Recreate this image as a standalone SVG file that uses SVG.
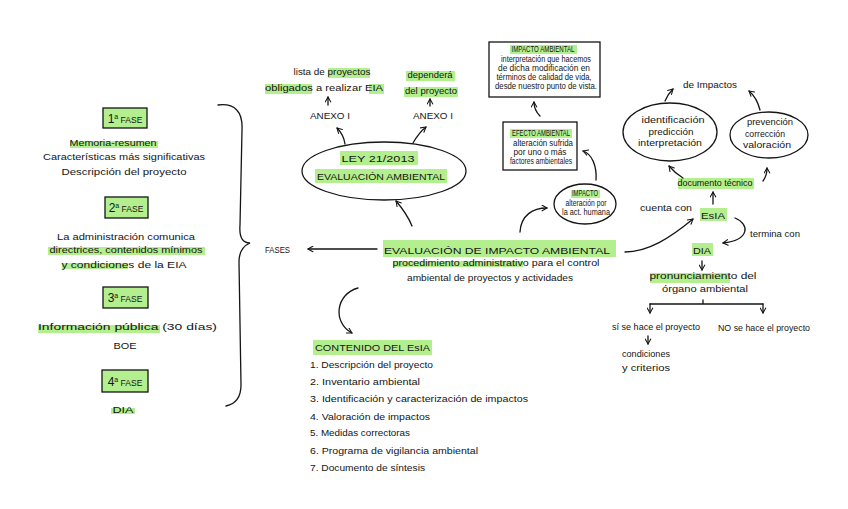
<svg xmlns="http://www.w3.org/2000/svg" width="848" height="509" viewBox="0 0 848 509">
<style>
.t{font-family:"Liberation Sans",Arial,sans-serif;fill:#151515;font-size:9px}
.m{text-anchor:middle}
.hl{fill:#b3ef8e}
.box{fill:#b3ef8e;stroke:#151515;stroke-width:1.3}
.wbox{fill:#fff;stroke:#151515;stroke-width:1.3}
.ln{fill:none;stroke:#151515;stroke-width:1.3;stroke-linecap:round}
.ar{fill:none;stroke:#151515;stroke-width:1.3;stroke-linecap:round;marker-end:url(#ah)}
</style>
<defs>
<marker id="ah" viewBox="0 0 10 10" refX="8" refY="5" markerWidth="7" markerHeight="7" orient="auto" markerUnits="userSpaceOnUse">
<path d="M1,1 L8,5 L1,9" fill="none" stroke="#151515" stroke-width="1.5" stroke-linecap="round" stroke-linejoin="round"/>
</marker>
</defs>
<rect width="848" height="509" fill="#fff"/>

<g id="fase1">
<rect class="box" x="103" y="108" width="44" height="20"/>
<text class="t m" x="125" y="123"><tspan font-size="12">1</tspan><tspan font-size="7" dy="-4">a</tspan><tspan font-size="8.5" dy="4"> FASE</tspan></text>
<rect class="hl" x="70" y="141" width="88" height="7"/>
<text class="t m" x="113" y="146" textLength="87" lengthAdjust="spacingAndGlyphs" font-size="10">Memoria-resumen</text>
<text class="t m" x="124" y="160" textLength="162" lengthAdjust="spacingAndGlyphs" font-size="10">Características más significativas</text>
<text class="t m" x="124" y="175" textLength="125" lengthAdjust="spacingAndGlyphs" font-size="10">Descripción del proyecto</text>
</g>

<g id="fase2">
<rect class="box" x="105" y="197" width="43" height="21"/>
<text class="t m" x="126" y="212"><tspan font-size="12">2</tspan><tspan font-size="7" dy="-4">a</tspan><tspan font-size="8.5" dy="4"> FASE</tspan></text>
<text class="t m" x="126" y="240" textLength="138" lengthAdjust="spacingAndGlyphs" font-size="10">La administración comunica</text>
<rect class="hl" x="48" y="247" width="157" height="8"/>
<text class="t m" x="126" y="253" textLength="153" lengthAdjust="spacingAndGlyphs" font-size="10">directrices, contenidos mínimos</text>
<rect class="hl" x="62" y="263" width="66" height="6"/>
<text class="t m" x="124" y="268" textLength="125" lengthAdjust="spacingAndGlyphs" font-size="10">y condiciones de la EIA</text>
</g>

<g id="fase3">
<rect class="box" x="103" y="287" width="45" height="21"/>
<text class="t m" x="125" y="302"><tspan font-size="12">3</tspan><tspan font-size="7" dy="-4">a</tspan><tspan font-size="8.5" dy="4"> FASE</tspan></text>
<rect class="hl" x="38" y="325" width="122" height="8"/>
<text class="t" x="38" y="330" textLength="179" lengthAdjust="spacingAndGlyphs" font-size="12">Información pública  (30 días)</text>
<text class="t m" x="125" y="349" textLength="23" lengthAdjust="spacingAndGlyphs" font-size="11">BOE</text>
</g>

<g id="fase4">
<rect class="box" x="102" y="370" width="46" height="22"/>
<text class="t m" x="125" y="386"><tspan font-size="12">4</tspan><tspan font-size="7" dy="-4">a</tspan><tspan font-size="8.5" dy="4"> FASE</tspan></text>
<rect class="hl" x="111" y="408" width="24" height="6"/>
<text class="t m" x="123" y="413" textLength="21" lengthAdjust="spacingAndGlyphs" font-size="11">DIA</text>
</g>

<g id="fases">
<text class="t" x="265" y="253" textLength="25" lengthAdjust="spacingAndGlyphs" font-size="9">FASES</text>
</g>

<g id="ley">
<ellipse class="ln" cx="384" cy="171" rx="82" ry="29"/>
<rect class="hl" x="340" y="151" width="78" height="14"/>
<text class="t m" x="378" y="162" textLength="73" lengthAdjust="spacingAndGlyphs" font-size="11">LEY 21/2013</text>
<rect class="hl" x="315" y="169" width="132" height="14"/>
<text class="t m" x="381" y="180" textLength="128" lengthAdjust="spacingAndGlyphs" font-size="10">EVALUACIÓN  AMBIENTAL</text>
</g>

<g id="anexo1">
<text class="t m" x="330" y="119" textLength="40" lengthAdjust="spacingAndGlyphs" font-size="9">ANEXO I</text>
<rect class="hl" x="328" y="68" width="42" height="10"/>
<text class="t m" x="332" y="75" textLength="77" lengthAdjust="spacingAndGlyphs" font-size="9.5">lista de proyectos</text>
<rect class="hl" x="265" y="84" width="47" height="10"/>
<rect class="hl" x="369" y="84" width="15" height="10"/>
<text class="t m" x="324" y="91" textLength="118" lengthAdjust="spacingAndGlyphs" font-size="9.5">obligados a realizar EIA</text>
</g>

<g id="anexo2">
<text class="t m" x="433" y="119" textLength="40" lengthAdjust="spacingAndGlyphs" font-size="9">ANEXO I</text>
<rect class="hl" x="406" y="71" width="49" height="10"/>
<text class="t m" x="430" y="78" textLength="45" lengthAdjust="spacingAndGlyphs" font-size="9.5">dependerá</text>
<rect class="hl" x="404" y="87" width="54" height="10"/>
<text class="t m" x="431" y="94" textLength="52" lengthAdjust="spacingAndGlyphs" font-size="9.5">del proyecto</text>
</g>

<g id="eia">
<rect class="hl" x="383" y="240" width="233" height="17"/>
<text class="t m" x="497" y="254" textLength="226" lengthAdjust="spacingAndGlyphs" font-size="14">EVALUACIÓN DE IMPACTO AMBIENTAL</text>
<rect class="hl" x="393" y="261" width="130" height="6"/>
<text class="t m" x="496" y="266" textLength="207" lengthAdjust="spacingAndGlyphs" font-size="9.5">procedimiento administrativo para el control</text>
<text class="t m" x="490" y="281" textLength="166" lengthAdjust="spacingAndGlyphs" font-size="9.5">ambiental de proyectos y actividades</text>
</g>

<g id="impacto-ambiental">
<rect class="wbox" x="489" y="42" width="111" height="55"/>
<rect class="hl" x="510" y="45" width="67" height="9"/>
<text class="t m" x="543" y="52" textLength="63" lengthAdjust="spacingAndGlyphs" font-size="6.5">IMPACTO AMBIENTAL</text>
<text class="t m" x="546" y="62" textLength="90" lengthAdjust="spacingAndGlyphs" font-size="7">interpretación que hacemos</text>
<text class="t m" x="544" y="71" textLength="92" lengthAdjust="spacingAndGlyphs" font-size="7">de dicha modificación en</text>
<text class="t m" x="544" y="80" textLength="95" lengthAdjust="spacingAndGlyphs" font-size="7">términos de calidad de vida,</text>
<text class="t m" x="546" y="89" textLength="102" lengthAdjust="spacingAndGlyphs" font-size="7">desde nuestro punto de vista.</text>
</g>

<g id="efecto-ambiental">
<rect class="wbox" x="503" y="122" width="74" height="48"/>
<rect class="hl" x="510" y="129" width="62" height="9"/>
<text class="t m" x="541" y="136" textLength="58" lengthAdjust="spacingAndGlyphs" font-size="6.5">EFECTO AMBIENTAL</text>
<text class="t m" x="543" y="146" textLength="60" lengthAdjust="spacingAndGlyphs" font-size="6.3">alteración sufrida</text>
<text class="t m" x="540" y="155" textLength="53" lengthAdjust="spacingAndGlyphs" font-size="6.3">por uno o más</text>
<text class="t m" x="541" y="164" textLength="62" lengthAdjust="spacingAndGlyphs" font-size="6.3">factores ambientales</text>
</g>

<g id="impacto">
<ellipse class="ln" cx="585" cy="204" rx="31" ry="20"/>
<rect class="hl" x="571" y="190" width="29" height="8"/>
<text class="t m" x="585" y="196" textLength="26" lengthAdjust="spacingAndGlyphs" font-size="6">IMPACTO</text>
<text class="t m" x="586" y="206" textLength="41" lengthAdjust="spacingAndGlyphs" font-size="6">alteración por</text>
<text class="t m" x="586" y="215" textLength="48" lengthAdjust="spacingAndGlyphs" font-size="6">la act. humana</text>
</g>

<g id="de-impactos">
<text class="t m" x="710" y="88" textLength="54" lengthAdjust="spacingAndGlyphs" font-size="9">de Impactos</text>
</g>

<g id="identificacion">
<ellipse class="ln" cx="670" cy="132" rx="47" ry="29"/>
<text class="t m" x="673" y="123" textLength="63" lengthAdjust="spacingAndGlyphs" font-size="8.5">identificación</text>
<text class="t m" x="671" y="135" textLength="45" lengthAdjust="spacingAndGlyphs" font-size="8.5">predicción</text>
<text class="t m" x="670" y="146" textLength="64" lengthAdjust="spacingAndGlyphs" font-size="8.5">interpretación</text>
</g>

<g id="prevencion">
<ellipse class="ln" cx="769" cy="135" rx="39" ry="23"/>
<text class="t m" x="770" y="125" textLength="46" lengthAdjust="spacingAndGlyphs" font-size="8.5">prevención</text>
<text class="t m" x="765" y="137" textLength="40" lengthAdjust="spacingAndGlyphs" font-size="8.5">corrección</text>
<text class="t m" x="767" y="148" textLength="48" lengthAdjust="spacingAndGlyphs" font-size="8.5">valoración</text>
</g>

<g id="documento-tecnico">
<rect class="hl" x="678" y="178" width="76" height="11"/>
<text class="t m" x="715" y="186" textLength="75" lengthAdjust="spacingAndGlyphs" font-size="8.5">documento técnico</text>
</g>

<g id="esia">
<text class="t m" x="666" y="211" textLength="52" lengthAdjust="spacingAndGlyphs" font-size="8">cuenta con</text>
<rect class="hl" x="700" y="208" width="27" height="13"/>
<text class="t m" x="713" y="219" textLength="24" lengthAdjust="spacingAndGlyphs" font-size="10">EsIA</text>
<text class="t m" x="775" y="237" textLength="50" lengthAdjust="spacingAndGlyphs" font-size="8">termina con</text>
</g>

<g id="dia">
<rect class="hl" x="692" y="243" width="21" height="13"/>
<text class="t m" x="702" y="254" textLength="18" lengthAdjust="spacingAndGlyphs" font-size="10">DIA</text>
</g>

<g id="pronunciamiento">
<rect class="hl" x="650" y="273" width="80" height="10"/>
<text class="t m" x="703" y="279" textLength="107" lengthAdjust="spacingAndGlyphs" font-size="9">pronunciamiento del</text>
<text class="t m" x="705" y="292" textLength="86" lengthAdjust="spacingAndGlyphs" font-size="9">órgano ambiental</text>
</g>

<g id="si-proyecto">
<text class="t m" x="656" y="330" textLength="88" lengthAdjust="spacingAndGlyphs" font-size="9">sí se hace el proyecto</text>
<text class="t m" x="646" y="357" textLength="48" lengthAdjust="spacingAndGlyphs" font-size="9">condiciones</text>
<text class="t m" x="646" y="371" textLength="48" lengthAdjust="spacingAndGlyphs" font-size="9">y criterios</text>
</g>

<g id="no-proyecto">
<text class="t m" x="764" y="331" textLength="92" lengthAdjust="spacingAndGlyphs" font-size="9">NO se hace el proyecto</text>
</g>

<g id="contenido">
<rect class="hl" x="313" y="340" width="119" height="15"/>
<text class="t" x="315" y="351" textLength="115" lengthAdjust="spacingAndGlyphs" font-size="9.5">CONTENIDO  DEL  EsIA</text>
<text class="t" x="310" y="368" textLength="123" lengthAdjust="spacingAndGlyphs" font-size="8.5">1. Descripción del proyecto</text>
<text class="t" x="310" y="385" textLength="110" lengthAdjust="spacingAndGlyphs" font-size="8.5">2. Inventario ambiental</text>
<text class="t" x="310" y="402" textLength="218" lengthAdjust="spacingAndGlyphs" font-size="8.5">3. Identificación y caracterización de impactos</text>
<text class="t" x="310" y="420" textLength="120" lengthAdjust="spacingAndGlyphs" font-size="8.5">4. Valoración de impactos</text>
<text class="t" x="310" y="436" textLength="100" lengthAdjust="spacingAndGlyphs" font-size="8.5">5. Medidas correctoras</text>
<text class="t" x="310" y="454" textLength="168" lengthAdjust="spacingAndGlyphs" font-size="8.5">6. Programa de vigilancia ambiental</text>
<text class="t" x="310" y="471" textLength="115" lengthAdjust="spacingAndGlyphs" font-size="8.5">7. Documento de síntesis</text>
</g>

<g id="connectors">
<path class="ln" d="M218,105 C235,103 243,112 242,130 L240,225 C239,238 243,243 250,243 C243,246 239,252 239,262 L241,385 C241,398 235,404 226,406"/>
<path class="ar" d="M377,249 L308,249"/>
<path class="ar" d="M412,226 C408,216 402,208 396,201"/>
<path class="ar" d="M345,144 C344,137 341,132 337,128"/>
<path class="ar" d="M413,143 C417,136 421,131 426,127"/>
<path class="ar" d="M328,105 L328,97"/>
<path class="ar" d="M430,106 L430,99"/>
<path class="ar" d="M520,232 C521,215 533,208 547,208"/>
<path class="ar" d="M596,180 C597,166 592,154 583,151"/>
<path class="ar" d="M540,116 C536,112 534,108 534,102"/>
<path class="ar" d="M358,288 C336,294 332,322 352,333"/>
<path class="ar" d="M625,252 C648,252 670,238 693,219"/>
<path class="ar" d="M713,204 L713,192"/>
<path class="ar" d="M683,178 C678,175 674,172 669,166"/>
<path class="ar" d="M763,181 C766,177 767,173 767,168"/>
<path class="ar" d="M665,101 C667,96 669,93 673,89"/>
<path class="ar" d="M760,110 C758,102 755,96 749,91"/>
<path class="ar" d="M735,218 C750,224 750,240 723,243"/>
<path class="ar" d="M702,261 L702,270"/>
<path class="ln" d="M650,304 L763,304 M703,300 L703,304"/>
<path class="ar" d="M650,304 L650,313"/>
<path class="ar" d="M763,304 L763,313"/>
<path class="ar" d="M648,336 L648,344"/>
</g>
</svg>
